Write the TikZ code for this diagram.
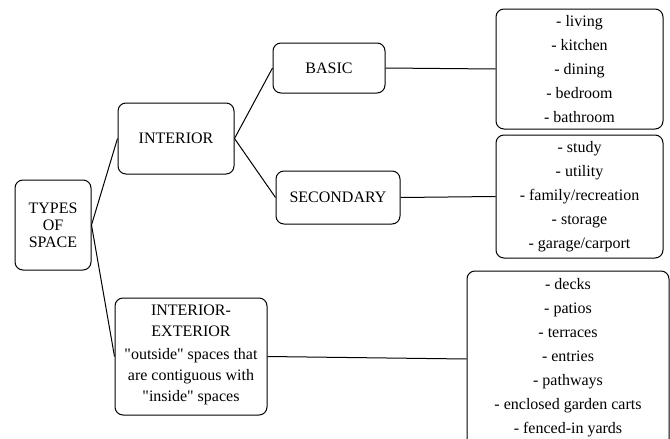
\documentclass[tikz,border=0pt]{standalone}
\usepackage{fontspec}
\setmainfont{Liberation Serif}[Ligatures=TeXOff]
\begin{document}
\begin{tikzpicture}[x=1pt,y=1pt,
  box/.style={draw, line width=1pt, rounded corners=8pt, inner sep=0pt, align=center},
  conn/.style={line width=1pt},
  big/.style={font=\fontsize{16}{24}\selectfont},
]
\useasboundingbox (0,0) rectangle (670,-439);
\begin{scope}
\clip (0,0) rectangle (670,-439);
\node[box, big, minimum width=76, minimum height=90, font=\fontsize{16}{17}\selectfont] (types) at (53,-225) {TYPES\\OF\\SPACE};
\node[box, big, minimum width=116, minimum height=71] (interior) at (176,-138.5) {INTERIOR};
\node[box, big, minimum width=112, minimum height=50] (basic) at (329,-68) {BASIC};
\node[box, big, minimum width=124, minimum height=53] (secondary) at (338,-197.5) {SECONDARY};
\node[box, big, minimum width=167, minimum height=120] (list1) at (579.5,-69) {- living\\- kitchen\\- dining\\- bedroom\\- bathroom};
\node[box, big, minimum width=167, minimum height=123] (list2) at (579.5,-196.5) {- study\\- utility\\- family/recreation\\- storage\\- garage/carport};
\node[box, big, minimum width=202, minimum height=176] (list3) at (568,-359) {};
\node[big, align=center] (list3text) at (list3.center) [yshift=1.5] {- decks\\- patios\\- terraces\\- entries\\- pathways\\- enclosed garden carts\\- fenced-in yards};
\node[box, minimum width=152, minimum height=117] (intext) at (191,-356.5) {};
\node[align=center, font=\fontsize{16}{21}\selectfont] (intexttext) at (intext.center) [yshift=2] {INTERIOR-\\EXTERIOR\\[2pt]"outside" spaces that\\are contiguous with\\"inside" spaces};
\draw[conn] (types.east) -- (interior.west);
\draw[conn] (types.east) -- (intext.west);
\draw[conn] (interior.east) -- (basic.west);
\draw[conn] (interior.east) -- (secondary.west);
\draw[conn] (basic.east) -- (list1.west);
\draw[conn] (secondary.east) -- (list2.west);
\draw[conn] (intext.east) -- (list3.west);
\end{scope}
\end{tikzpicture}
\end{document}
